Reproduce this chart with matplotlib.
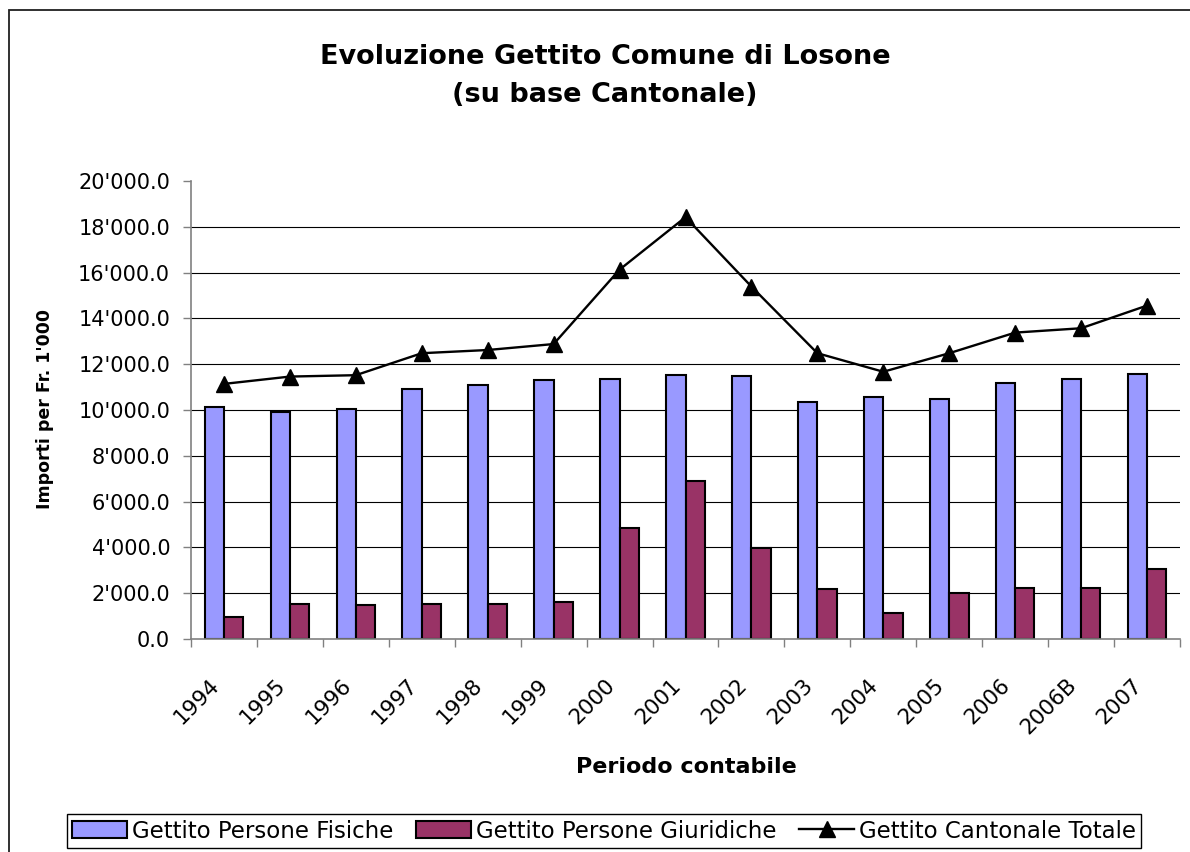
import numpy as np
import matplotlib
matplotlib.use("Agg")
import matplotlib.pyplot as plt
from matplotlib.patches import Rectangle
from matplotlib.ticker import FuncFormatter
from matplotlib.transforms import ScaledTranslation

# ---- data ----
periods = ["1994", "1995", "1996", "1997", "1998", "1999", "2000", "2001",
           "2002", "2003", "2004", "2005", "2006", "2006B", "2007"]
fisiche = [10150, 9920, 10060, 10920, 11090, 11300, 11340, 11520,
           11490, 10360, 10560, 10490, 11170, 11340, 11560]
giuridiche = [970, 1540, 1490, 1530, 1530, 1620, 4850, 6910,
              3970, 2170, 1130, 2000, 2230, 2230, 3040]
totale = [11140, 11460, 11520, 12480, 12620, 12880, 16130, 18420,
          15390, 12480, 11670, 12480, 13380, 13570, 14560]
yticks = [0, 2000, 4000, 6000, 8000, 10000, 12000, 14000, 16000, 18000, 20000]

title_l1 = "Evoluzione Gettito Comune di Losone"
title_l2 = "(su base Cantonale)"
ylabel = "Importi per Fr. 1'000"
xlabel = "Periodo contabile"
labels = ["Gettito Persone Fisiche", "Gettito Persone Giuridiche", "Gettito Cantonale Totale"]

plt.rcParams['font.family'] = ['DejaVu Sans']

W, H = 1190, 852
fig = plt.figure(figsize=(W / 100, H / 100), dpi=100)
fig.patch.set_facecolor("white")

# figure border (right and bottom edges fall outside the picture)
fig.patches.append(Rectangle((8.5 / W, -0.1), 1.2, (H - 10) / H + 0.1,
                             transform=fig.transFigure, fill=False,
                             edgecolor="#202020", linewidth=1.3, clip_on=False))

L, R, T, B = 191, 1180, 181, 639
ax = fig.add_axes([L / W, 1 - B / H, (R - L) / W, (B - T) / H])

x = np.arange(len(periods))
bw = 0.293
h1 = ax.bar(x - bw, fisiche, width=bw, align="edge", color="#9999FF",
            edgecolor="black", linewidth=1.5, zorder=3)
h2 = ax.bar(x, giuridiche, width=bw, align="edge", color="#993366",
            edgecolor="black", linewidth=1.5, zorder=3)
h3, = ax.plot(x, totale, color="black", linewidth=1.7, marker="^",
              markersize=11, zorder=4)

ax.set_xlim(-0.5, len(periods) - 0.5)
ax.set_ylim(0, 20000)
ax.set_yticks(yticks)
ax.yaxis.set_major_formatter(FuncFormatter(
    lambda v, p: "{:,.1f}".format(v).replace(",", "'")))

# grid lines (skip top one)
for v in yticks[1:-1]:
    ax.axhline(v, color="black", linewidth=0.8, zorder=1)

ax.set_xticks(np.arange(-0.5, len(periods), 1.0))
ax.set_xticklabels([])
ax.set_xticks(x, minor=True)
ax.set_xticklabels(periods, minor=True, rotation=45, ha="right",
                   va="center", rotation_mode="anchor", fontsize=15.5)
ax.tick_params(axis="x", which="major", direction="out", length=6,
               color="#808080", width=1)
ax.tick_params(axis="x", which="minor", length=0, pad=30)
for lab in ax.get_xticklabels(minor=True):
    lab.set_transform(lab.get_transform() +
                      ScaledTranslation(-0.08, -0.01, fig.dpi_scale_trans))
ax.tick_params(axis="y", direction="out", length=6, color="#808080",
               width=1, labelsize=15, pad=9)

for s in ["top", "right"]:
    ax.spines[s].set_visible(False)
for s in ["left", "bottom"]:
    ax.spines[s].set_color("#808080")
    ax.spines[s].set_linewidth(1.2)
    ax.spines[s].set_zorder(5)

fig.text(605 / W, 1 - 63.5 / H, title_l1, ha="center", va="baseline",
         fontsize=19.5, fontweight="bold")
fig.text(605 / W, 1 - 101.5 / H, title_l2, ha="center", va="baseline",
         fontsize=19.5, fontweight="bold")
fig.text(45 / W, 1 - 409 / H, ylabel, rotation=90, ha="center",
         va="center", fontsize=12.5, fontweight="bold")
fig.text(686 / W, 1 - 773 / H, xlabel, ha="center", va="baseline",
         fontsize=16, fontweight="bold")

leg = fig.legend([h1, h2, h3], labels, loc="center",
                 bbox_to_anchor=(604 / W, 1 - 831 / H),
                 ncol=3, frameon=True, fancybox=False, edgecolor="black",
                 framealpha=1, fontsize=16.5, borderpad=0.25, handlelength=2.4,
                 handletextpad=0.2, columnspacing=1.0, borderaxespad=0)
leg.get_frame().set_linewidth(1.0)

fig.savefig("out.png", dpi=100, facecolor="white")
